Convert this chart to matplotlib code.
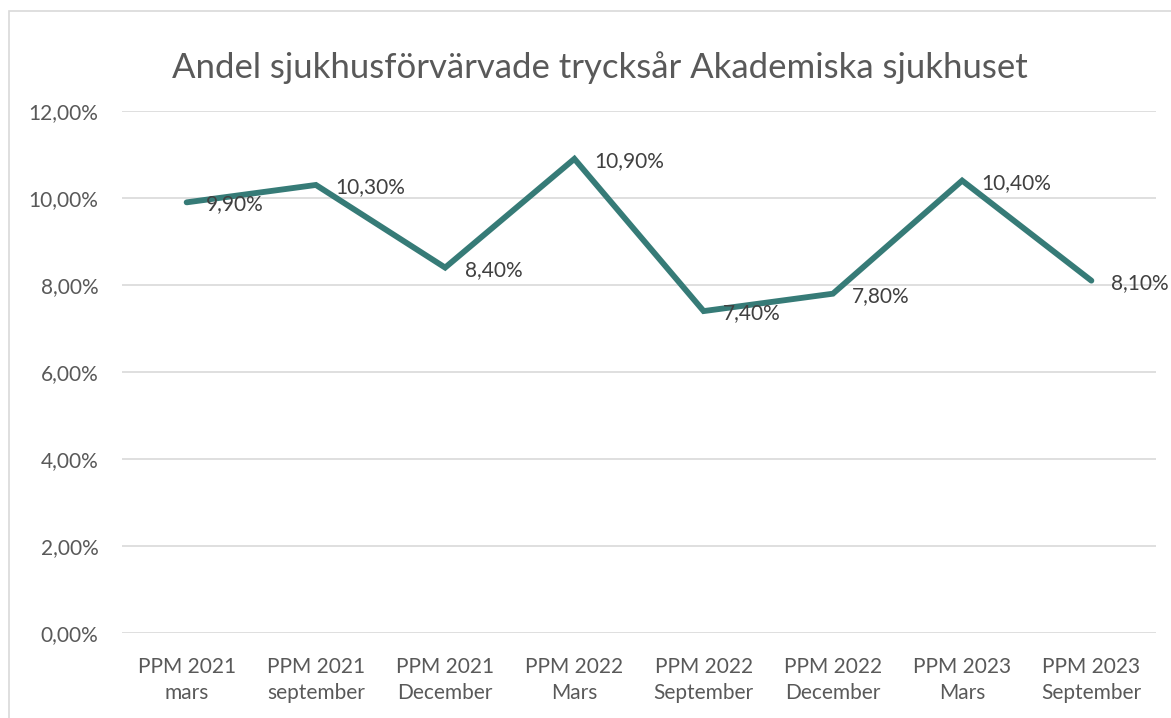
import matplotlib.pyplot as plt
from matplotlib.patches import Rectangle
from matplotlib.ticker import FuncFormatter

plt.rcParams['font.family'] = ['Lato', 'DejaVu Sans']

categories = ['PPM 2021\nmars', 'PPM 2021\nseptember', 'PPM 2021\nDecember', 'PPM 2022\nMars',
              'PPM 2022\nSeptember', 'PPM 2022\nDecember', 'PPM 2023\nMars', 'PPM 2023\nSeptember']
values = [9.9, 10.3, 8.4, 10.9, 7.4, 7.8, 10.4, 8.1]
yticks = [0, 2, 4, 6, 8, 10, 12]

textcol = '#595959'
linecol = '#367b77'

fig = plt.figure(figsize=(11.71, 7.18), dpi=100)
# ram runt diagrammet
fig.patches.append(Rectangle((9 / 1171, -0.1), 1.2, 1 - 11 / 718 + 0.1, transform=fig.transFigure,
                             fill=False, edgecolor='#d9d9d9', linewidth=1.2))

ax = fig.add_axes([0.1042, 0.1184, 0.8830, 0.7270])
x = list(range(len(values)))
ax.plot(x, values, color=linecol, linewidth=4.2, solid_capstyle='round', solid_joinstyle='miter', zorder=3)

for xi, v in zip(x, values):
    lab = f'{v:.1f}'.replace('.', ',') + '0%'
    ax.annotate(lab, (xi, v), xytext=(14, -1.5), textcoords='offset points', ha='left', va='center',
                fontsize=15, color='#404040', zorder=4)

ax.set_xlim(-0.5, len(values) - 0.5)
ax.set_ylim(0, 12)
ax.set_yticks(yticks)
ax.yaxis.set_major_formatter(FuncFormatter(lambda v, p: f'{v:.2f}'.replace('.', ',') + '%'))
ax.set_xticks(x)
ax.set_xticklabels(categories, linespacing=1.4)
ax.tick_params(axis='both', length=0, labelsize=15, labelcolor=textcol)
ax.tick_params(axis='x', pad=17)
ax.tick_params(axis='y', pad=17)
ax.grid(axis='y', color='#d9d9d9', linewidth=1.2)
ax.set_axisbelow(True)
for s in ax.spines.values():
    s.set_visible(False)

fig.text(0.512, 1 - 68 / 718, 'Andel sjukhusförvärvade trycksår Akademiska sjukhuset',
         ha='center', va='center', fontsize=25, color=textcol)

fig.savefig('out.png', dpi=100)
